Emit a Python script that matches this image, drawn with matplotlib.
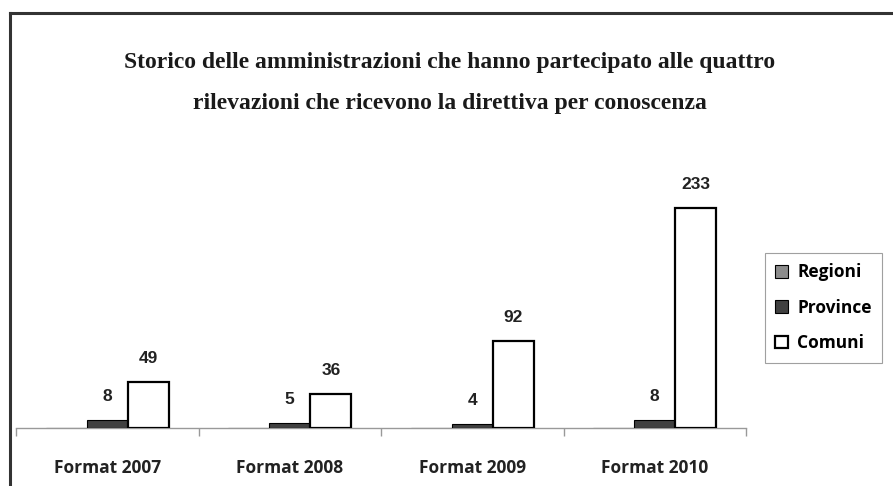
import matplotlib.pyplot as plt
from matplotlib.lines import Line2D
import numpy as np

categories = ["Format 2007", "Format 2008", "Format 2009", "Format 2010"]
series = ["Regioni", "Province", "Comuni"]
regioni = [0, 0, 0, 0]
province = [8, 5, 4, 8]
comuni = [49, 36, 92, 233]
title = ("Storico delle amministrazioni che hanno partecipato alle quattro\n"
         "rilevazioni che ricevono la direttiva per conoscenza")

W, H = 893, 486
fig = plt.figure(figsize=(W / 100, H / 100), dpi=100)

# outer frame: only top and left edges show
fig.add_artist(Line2D([10 / W, 1], [1 - 13 / H, 1 - 13 / H], color="#333333", lw=2.2))
fig.add_artist(Line2D([10 / W, 10 / W], [0, 1 - 13 / H], color="#333333", lw=2.2))

fig.text(450 / W, 1 - 83 / H, title, ha="center", va="center", family="Liberation Serif",
         fontweight="bold", fontsize=17, linespacing=2.3, color="#1a1a1a")

left, right, base, top = 16, 746, 428, 160
ax = fig.add_axes([left / W, 1 - base / H, (right - left) / W, (base - top) / H])
ax.set_xlim(-0.5, 3.5)
ax.set_ylim(0, (base - top) / (220 / 233))

x = np.arange(len(categories))
w = 0.225
colors = ["#8c8c8c", "#404040", "white"]
for i, (vals, c) in enumerate(zip([regioni, province, comuni], colors)):
    pos = x + (i - 1) * w
    bars = ax.bar(pos, vals, w, color=c, edgecolor="black", lw=1.6 if i == 2 else 0.8,
                  label=series[i], zorder=3)
    if i == 0:
        continue
    for p, v in zip(pos, vals):
        ax.annotate(str(v), (p, v), xytext=(0, 17), textcoords="offset points",
                    ha="center", va="center", family="Liberation Sans",
                    fontweight="bold", fontsize=12.5, color="#222222")

for s in ["top", "right", "left"]:
    ax.spines[s].set_visible(False)
ax.spines["bottom"].set_color("#999999")
ax.spines["bottom"].set_linewidth(1.0)
ax.set_yticks([])
ax.set_xticks(np.arange(-0.5, 4, 1))
ax.set_xticklabels([])
ax.tick_params(axis="x", length=6, color="#999999", width=1.0)
ax.set_xticks(x, minor=True)
ax.set_xticklabels(categories, minor=True, family="Open Sans", fontweight="bold",
                   fontsize=12.5, color="#222222")
ax.tick_params(axis="x", which="minor", length=0, pad=22)
ax.patch.set_visible(False)

leg = fig.legend(loc="upper left", bbox_to_anchor=(765 / W, 1 - 253 / H),
                 prop={"family": "Open Sans", "weight": "bold", "size": 12.5},
                 frameon=True, fancybox=False, edgecolor="#888888", borderaxespad=0,
                 handlelength=0.75, handleheight=0.75, handletextpad=0.5,
                 labelspacing=1.0, borderpad=0.6)
leg.get_frame().set_linewidth(0.8)

fig.savefig("out.png", dpi=100)
